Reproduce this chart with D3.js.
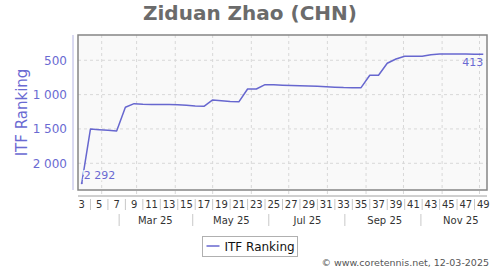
<!DOCTYPE html>
<html>
<head>
<meta charset="utf-8">
<script src="https://cdn.jsdelivr.net/npm/d3@7"></script>
<style>
  body { margin: 0; background: #fff; }
  svg { display: block; font-family: "DejaVu Sans", sans-serif; }
</style>
</head>
<body>
<div class="chart"></div>
<script>
// Weekly ITF ranking, 2025 (ISO week numbers)
const weeks = [3, 4, 5, 6, 7, 8, 9, 10, 11, 12, 13, 14, 15, 16, 17, 18, 19, 20, 21, 22, 23, 24, 25, 26,
  27, 28, 29, 30, 31, 32, 33, 34, 35, 36, 37, 38, 39, 40, 41, 42, 43, 44, 45, 46, 47, 48, 49];
const ranking = [2292, 1500, 1510, 1520, 1530, 1184, 1132, 1140, 1145, 1145, 1145, 1147, 1155, 1165, 1170,
  1078, 1090, 1100, 1105, 918, 918, 855, 858, 862, 866, 870, 875, 880, 886, 892, 898, 900, 899,
  718, 718, 544, 481, 442, 442, 442, 418, 410, 410, 410, 410, 411, 413];
const weekLabels = [3, 5, 7, 9, 11, 13, 15, 17, 19, 21, 23, 25, 27, 29, 31, 33, 35, 37, 39, 41, 43, 45, 47, 49];
const weekSeps = [4, 6, 8, 10, 12, 14, 16, 18, 20, 22, 24, 26, 28, 30, 32, 34, 36, 38, 40, 42, 44, 46, 48];
const monthLabels = ["Mar 25", "May 25", "Jul 25", "Sep 25", "Nov 25"];
const monthLabelMonths = [2, 4, 6, 8, 10];
const monthSepMonths = [1, 3, 5, 7, 9];
const yTicks = [500, 1000, 1500, 2000];

const W = 500, H = 270;
const plot = { left: 78, right: 487, top: 35, bottom: 190 };
const lineColor = "#6767cf";
const fmt = d3.formatLocale({ decimal: ".", thousands: "\u00a0", grouping: [3], currency: ["", ""] }).format(",d");

// week n -> Thursday of ISO week n in 2025
const weekDate = n => new Date(2025, 0, 2 + 7 * (n - 1));
const data = weeks.map((w, i) => ({ week: w, date: weekDate(w), rank: ranking[i] }));

const svg = d3.select(".chart")
  .append("svg")
  .attr("width", W)
  .attr("height", H);

const x = d3.scaleTime()
  .domain([new Date(2025, 0, 13), new Date(2025, 11, 7)])
  .range([plot.left, plot.right]);

const y = d3.scaleLinear()
  .domain([132, 2389])
  .range([plot.top, plot.bottom]);

// Title
svg.append("text")
  .attr("x", 250).attr("y", 20)
  .attr("text-anchor", "middle")
  .attr("font-size", 20).attr("font-weight", "bold")
  .attr("fill", "#6b6b6b")
  .text("Ziduan Zhao (CHN)");

// Plot background
svg.append("rect")
  .attr("x", plot.left).attr("y", plot.top)
  .attr("width", plot.right - plot.left).attr("height", plot.bottom - plot.top)
  .attr("fill", "#f9f9f9");

// Grid
const months = d3.timeMonth.range(new Date(2025, 1, 1), new Date(2025, 11, 2));
svg.append("g")
  .selectAll("line")
  .data(months)
  .join("line")
    .attr("x1", d => x(d)).attr("x2", d => x(d))
    .attr("y1", plot.top).attr("y2", 196)
    .attr("stroke", "#d8d8d8")
    .attr("stroke-dasharray", "3,3");

svg.append("g")
  .selectAll("line")
  .data(yTicks)
  .join("line")
    .attr("x1", plot.left).attr("x2", plot.right)
    .attr("y1", d => y(d)).attr("y2", d => y(d))
    .attr("stroke", "#d8d8d8")
    .attr("stroke-dasharray", "3,3");

// Frame
svg.append("rect")
  .attr("x", plot.left).attr("y", plot.top)
  .attr("width", plot.right - plot.left).attr("height", plot.bottom - plot.top)
  .attr("fill", "none")
  .attr("stroke", "#858585")
  .attr("stroke-width", 1.5);

// Y axis
const yAxis = svg.append("g")
  .attr("transform", "translate(73,0)")
  .call(d3.axisLeft(y).tickValues(yTicks).tickFormat(fmt).tickSize(0).tickPadding(6));
yAxis.select(".domain")
  .attr("d", `M0,${plot.top}V${plot.bottom}`)
  .attr("stroke", "#b4b4e4");
yAxis.selectAll("text")
  .attr("font-family", "DejaVu Sans")
  .attr("font-size", 12)
  .attr("fill", "#6a6ad2");

svg.append("text")
  .attr("transform", `translate(27,${(plot.top + plot.bottom) / 2}) rotate(-90)`)
  .attr("text-anchor", "middle")
  .attr("font-size", 15)
  .attr("fill", "#6a6ad2")
  .text("ITF Ranking");

// Line
svg.append("path")
  .datum(data)
  .attr("fill", "none")
  .attr("stroke", lineColor)
  .attr("stroke-width", 1.5)
  .attr("stroke-linejoin", "round")
  .attr("d", d3.line().x(d => x(d.date)).y(d => y(d.rank)));

// First / last value labels
const first = data[0], last = data[data.length - 1];
svg.append("circle")
  .attr("cx", x(first.date)).attr("cy", y(first.rank))
  .attr("r", 1).attr("fill", lineColor);
svg.append("text")
  .attr("x", x(first.date) + 2).attr("y", 179)
  .attr("font-size", 11)
  .attr("fill", "#6a6ad2")
  .attr("stroke", "#f9f9f9").attr("stroke-width", 3).attr("paint-order", "stroke")
  .text(fmt(first.rank));
svg.append("text")
  .attr("x", x(last.date)).attr("y", y(last.rank) + 12)
  .attr("text-anchor", "end")
  .attr("font-size", 11)
  .attr("fill", "#6a6ad2")
  .text(fmt(last.rank));

// X axis: weeks row
svg.append("line")
  .attr("x1", plot.left).attr("x2", plot.right)
  .attr("y1", 196).attr("y2", 196)
  .attr("stroke", "#a0a0a0");

svg.append("g")
  .selectAll("text")
  .data(weekLabels)
  .join("text")
    .attr("x", d => x(weekDate(d)))
    .attr("y", 208)
    .attr("text-anchor", "middle")
    .attr("font-size", 10)
    .attr("fill", "#333")
    .text(d => d);

svg.append("g")
  .selectAll("line")
  .data(weekSeps)
  .join("line")
    .attr("x1", d => x(weekDate(d))).attr("x2", d => x(weekDate(d)))
    .attr("y1", 199).attr("y2", 210)
    .attr("stroke", "#c8c8c8");

// X axis: months row
svg.append("g")
  .selectAll("text")
  .data(monthLabels)
  .join("text")
    .attr("x", (d, i) => x(new Date(2025, monthLabelMonths[i], 16)))
    .attr("y", 224)
    .attr("text-anchor", "middle")
    .attr("font-size", 10)
    .attr("fill", "#333")
    .text(d => d);

svg.append("g")
  .selectAll("line")
  .data(monthSepMonths)
  .join("line")
    .attr("x1", d => x(new Date(2025, d, 15))).attr("x2", d => x(new Date(2025, d, 15)))
    .attr("y1", 214).attr("y2", 226)
    .attr("stroke", "#c8c8c8");

// Legend
const legend = svg.append("g").attr("transform", "translate(202.5,236.5)");
legend.append("rect")
  .attr("width", 95).attr("height", 20)
  .attr("fill", "#fff").attr("stroke", "#b0b0b0");
legend.append("line")
  .attr("x1", 4).attr("x2", 17).attr("y1", 9.5).attr("y2", 9.5)
  .attr("stroke", lineColor).attr("stroke-width", 1.5);
legend.append("text")
  .attr("x", 22).attr("y", 14.5)
  .attr("font-size", 12)
  .attr("fill", "#111")
  .text("ITF Ranking");

// Credit
svg.append("text")
  .attr("x", 489).attr("y", 266)
  .attr("text-anchor", "end")
  .attr("font-size", 9.5)
  .attr("fill", "#555")
  .text("\u00a9 www.coretennis.net, 12-03-2025");
</script>
</body>
</html>
